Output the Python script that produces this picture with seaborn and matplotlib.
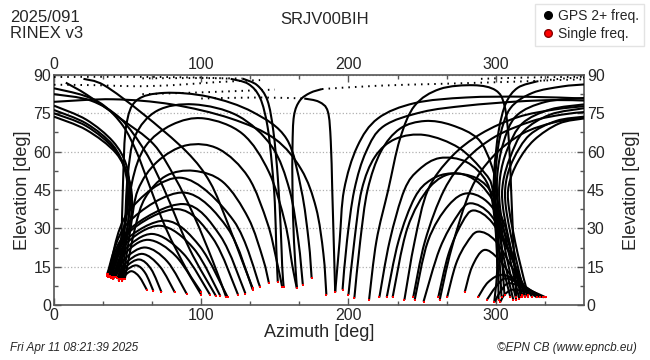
import matplotlib
matplotlib.use("Agg")
import matplotlib.pyplot as plt
from matplotlib.path import Path
from matplotlib.patches import PathPatch
from matplotlib.lines import Line2D
from matplotlib.ticker import MultipleLocator
import numpy as np
import pandas as pd
import seaborn as sns

# ── Satellite tracks, (azimuth, elevation) read off the skyplot ──
# east side: low arcs rising out of the NE bundle
EAST_LOW = [
    [(46, 9.5), (49, 12), (53, 13.2), (58, 11), (63, 6)],
    [(45, 10), (49, 13.5), (56, 15.5), (62, 12.5), (67.5, 5.5)],
    [(44, 10), (49, 15), (58, 17.8), (66, 14), (73, 5)],
    [(43, 10.5), (48, 16), (60, 20), (72, 15), (82, 5)],
    [(42, 11), (48, 18), (62, 22.5), (77, 17), (90, 4.5)],
    [(41, 11), (48, 20), (64, 25.5), (83, 19), (100, 4)],
    [(40, 11), (48, 21.5), (67, 27.8), (88, 20), (106, 4)],
    [(39, 11), (48, 23.5), (72, 31), (95, 22), (113, 3.5)],
    [(38, 11.2), (48, 25), (76, 33), (99, 23), (118, 3)],
    [(37, 11.5), (50, 28), (84, 37.5), (108, 26), (125, 4)],
    [(36, 11.5), (50, 29), (88, 39.5), (113, 27), (130, 4.5)],
    [(36, 12), (50, 32), (88, 44), (118, 30), (135, 6)],
    [(37, 12), (50, 36), (86, 49.8), (122, 33), (140, 7)],
]

# east side: high arches going over towards the south
EAST_ARCHES = [
    [(44, 9.5), (46, 30), (47, 50), (49, 70), (56, 80), (75, 83), (105, 81.5),
     (135, 75.5), (158, 65), (168, 45), (173, 25), (175, 10.5)],
    [(45, 10), (48, 30), (50, 50), (55, 66), (70, 76), (95, 78.5), (125, 74),
     (148, 62), (160, 45), (166, 25), (169, 8)],
    [(46, 10), (50, 30), (53, 48), (62, 62), (80, 70.5), (102, 73), (128, 67),
     (146, 52), (157, 32), (162, 15), (165, 6.5)],
    [(47, 10), (52, 30), (57, 45), (70, 56), (90, 62.5), (112, 61), (132, 50),
     (145, 32), (151, 18), (155, 7)],
    [(48, 10), (55, 30), (62, 42), (76, 50.5), (95, 52.5), (115, 48), (132, 34),
     (142, 18), (146, 8.5)],
]

# east side: tracks coming over the north pole hole into the NE bundle
EAST_NORTH = [
    [(0, 78), (22, 72.5), (40, 64), (49, 55), (51, 45), (48, 30), (43, 18), (38, 11)],
    [(0, 76.3), (22, 71), (40, 62.5), (48, 53), (50, 43), (47, 29), (42, 18), (37, 11)],
    [(0, 75), (22, 70), (41, 61), (50, 51), (52, 41), (49, 28), (44, 17), (39, 10.5)],
    [(0, 73.7), (22, 68.5), (42, 59.5), (51, 49), (53, 39), (50, 27), (45, 16), (40, 10)],
]

# east side: long diagonals from the north down to the SE horizon
EAST_DIAG = [
    [(0, 84.8), (20, 82), (34, 78), (47, 70), (56, 60), (64, 48), (76, 30), (90, 14), (100, 5)],
    [(0, 82.5), (25, 80), (45, 73), (62, 60), (75, 45), (92, 22), (110, 3.5)],
    [(8, 87), (22.5, 82.2), (45, 73), (67.5, 63), (82, 50), (95, 35), (108, 17), (117, 3)],
    [(20, 88.5), (34, 86), (60, 75), (90, 60), (106, 48), (118, 32), (128, 17), (135, 6.5)],
    [(0, 79.5), (40, 80.5), (80, 78.5), (120, 73), (150, 65), (168, 53), (178, 38),
     (183, 20), (185, 4)],
]

# near-zenith passes dropping to the south
CENTER = [
    [(120, 88.5), (132, 86.5), (140, 81), (145, 70), (148, 55), (150, 40), (151, 22), (152, 9)],
    [(128, 88.6), (138, 86), (145, 80), (149, 68), (152, 50), (154, 30), (155, 15), (156, 7)],
    [(165, 6.5), (163, 25), (162, 45), (162, 62), (163, 74), (167, 80), (174, 83), (182, 84.5)],
    [(170, 80.8), (180, 79.5), (186, 75.7), (188, 64), (189, 45), (190, 25), (191, 5)],
]

# sparse samples near the zenith (azimuth changes fast, so points spread out)
ZENITH_DOTTED = [
    [(0, 89.2), (50, 89.3), (100, 89), (120, 88.5)],
    [(60, 88.7), (100, 88.8), (128, 88.6)],
    [(0, 86.2), (30, 86), (55, 85.6), (80, 86), (110, 87.2), (140, 88)],
    [(60, 82.5), (100, 83.2), (150, 84.3)],
    [(100, 80.8), (140, 81.2), (170, 80.8)],
    [(182, 84.5), (220, 85.8), (260, 86.5), (314, 87.4), (340, 88), (360, 88.3)],
    [(328, 87.5), (345, 88.6), (360, 89)],
    [(290, 88.5), (320, 89), (360, 89.3)],
]

# west side: high arches from the SW down into the NW bundle
WEST_ARCHES = [
    [(214, 2), (219, 25), (227, 45), (235, 65), (245, 78), (262, 84.5), (285, 86),
     (300, 84), (306, 78), (309, 64), (310.5, 45), (312, 25), (314, 3)],
    [(204, 2.6), (208, 25), (213, 45), (222, 60), (235, 69), (252, 72), (270, 70.4),
     (288, 65), (297, 55), (300.5, 45), (302, 25), (304, 3)],
    [(200, 4), (204, 25), (209, 45), (218, 58), (232, 65), (252, 66.5), (275, 61.5),
     (292, 52), (298, 45), (301, 25), (302, 2)],
    [(221, 3), (228, 25), (238, 45), (248, 53), (262, 57.5), (280, 56), (294, 48),
     (299, 35), (301, 15), (299, 1)],
    [(226, 3), (234, 25), (245, 42), (256, 49), (270, 51.5), (287, 49.6), (298, 43),
     (303, 30), (305, 12), (306, 4)],
]

# west side: tracks out of the NW bundle over to the north
WEST_NORTH = [
    [(318, 3), (311, 20), (305, 38), (305, 48), (310, 58), (319, 68), (337, 74.5), (360, 77)],
    [(316, 2.5), (309, 20), (303, 38), (303, 50), (308, 61), (318, 71), (337, 76.5), (360, 78.5)],
    [(320, 3.5), (313, 20), (307, 38), (307, 48), (312, 57), (323, 66.5), (341, 72), (360, 73.7)],
    [(314, 2), (307, 20), (302, 38), (301, 50), (305, 63), (314, 74), (334, 79.5), (360, 81)],
    [(322, 4), (315, 20), (309, 38), (309, 47), (315, 56), (326, 64.5), (343, 71), (360, 73)],
    [(312, 2), (305, 20), (300, 38), (300, 52), (303, 66), (310, 77), (325, 83), (345, 85.5),
     (360, 86.3)],
    [(310, 3), (303, 20), (299, 38), (299, 52), (302, 68), (307, 79), (315, 85), (328, 87.5)],
]

# west side: long diagonals from the SW horizon up to the north
WEST_DIAG = [
    [(196, 6), (199, 25), (204, 45), (212, 60), (224, 70), (250, 75.5), (280, 78),
     (314, 79.6), (340, 80.2), (360, 80)],
    [(191, 5), (194, 25), (197, 45), (206, 62), (220, 73), (245, 79), (280, 81.2),
     (320, 81.5), (360, 80.8)],
    [(238, 2), (245, 25), (254, 45), (270, 58), (290, 67), (315, 73.5), (340, 76.5),
     (360, 77.8)],
    [(244, 3), (252, 25), (265, 45), (280, 57), (300, 66), (325, 72), (345, 74.5),
     (360, 75.5)],
    [(262, 2), (270, 22), (283, 45), (298, 58), (318, 67), (340, 71.5), (360, 73.3)],
]

# west side: low arcs setting into the NW bundle
WEST_LOW = [
    [(230, 3), (240, 30), (255, 46), (272, 51.5), (290, 47), (305, 33), (314, 12), (317, 3)],
    [(245, 2), (254, 25), (268, 39), (282, 43.7), (298, 38), (310, 22), (318, 4)],
    [(251, 1.3), (262, 22), (274, 35), (283, 39.8), (297, 35), (310, 20), (320, 3)],
    [(261, 3), (268, 20), (277, 32), (285, 37), (298, 32), (312, 17), (322, 3)],
    [(267, 3), (273, 16), (280, 24), (288, 28.7), (300, 25), (314, 12), (325, 3)],
    [(279, 5), (284, 15), (292, 21.5), (302, 18), (314, 9), (328, 3)],
    [(288, 3), (295, 9), (305, 11.8), (318, 8), (330, 3)],
    [(294, 2), (300, 7), (307, 10.4), (320, 7), (332, 3)],
    [(299, 1), (303, 5), (309, 8.5), (322, 6), (334, 3)],
    [(303, 1), (306, 4), (312, 6), (325, 4.5), (333, 3)],
]

SOLID_GROUPS = [EAST_LOW, EAST_ARCHES, EAST_NORTH, EAST_DIAG, CENTER,
                WEST_ARCHES, WEST_NORTH, WEST_DIAG, WEST_LOW]

STATION = "SRJV00BIH"
DOY = "2025/091"
RINEX = "RINEX v3"
STAMP = "Fri Apr 11 08:21:39 2025"
CREDIT = "\u00a9EPN CB (www.epncb.eu)"


def track_path(pts):
    # smooth curve through the read points (Catmull-Rom as cubic Bezier)
    p = np.asarray(pts, float)
    ext = np.vstack([p[0], p, p[-1]])
    verts, codes = [p[0]], [Path.MOVETO]
    for i in range(1, len(ext) - 2):
        a, b, c, d = ext[i - 1], ext[i], ext[i + 1], ext[i + 2]
        verts += [b + (c - a) / 6, c - (d - b) / 6, c]
        codes += [Path.CURVE4] * 3
    return Path(verts, codes)


sns.set_theme(style="ticks")
plt.rcParams["font.family"] = ["Liberation Sans", "DejaVu Sans"]

fig = plt.figure(figsize=(6.5, 3.6), dpi=100)
ax = fig.add_axes([54 / 650, 1 - 305 / 360, 530 / 650, 230 / 360])

for group in SOLID_GROUPS:
    for t in group:
        ax.add_patch(PathPatch(track_path(t), fill=False, ec="black", lw=1.5,
                               capstyle="butt", joinstyle="round", zorder=3))
for t in ZENITH_DOTTED:
    ax.add_patch(PathPatch(track_path(t), fill=False, ec="black", lw=1.4,
                           ls=(0, (0.8, 2.6)), zorder=3))

# single-frequency epochs at the low ends of the tracks
ends = []
for group in SOLID_GROUPS:
    for t in group:
        for az, el in (t[0], t[-1]):
            if el <= 12:
                ends.append((az, el))
red = pd.DataFrame(ends, columns=["az", "el"])
sns.scatterplot(data=red, x="az", y="el", color="red", s=3, marker="s",
                linewidth=0, ax=ax, zorder=5, legend=False)

ax.set_xlim(0, 360)
ax.set_ylim(0, 90)
ax.xaxis.set_major_locator(MultipleLocator(100))
ax.xaxis.set_minor_locator(MultipleLocator(100 / 3))
ax.yaxis.set_major_locator(MultipleLocator(15))
ax.yaxis.set_minor_locator(MultipleLocator(7.5))
ax.tick_params(which="both", direction="in", top=True, right=True,
               labeltop=True, labelright=True, color="#555555",
               labelsize=11.5, pad=2)
ax.tick_params(which="major", length=5, width=1)
ax.tick_params(which="minor", length=3, width=1)
ax.grid(axis="y", which="major", ls=":", color="#b0b0b0", lw=0.9)
for s in ax.spines.values():
    s.set_color("#555555")
    s.set_linewidth(1.2)

ax.set_xlabel("Azimuth [deg]", fontsize=13, labelpad=1)
ax.set_ylabel("Elevation [deg]", fontsize=13, labelpad=2)
ax2 = ax.secondary_yaxis("right")
ax2.yaxis.set_major_locator(MultipleLocator(15))
ax2.tick_params(length=0, labelsize=11.5, pad=6)
ax2.set_yticklabels([])
ax2.set_ylabel("Elevation [deg]", fontsize=13, labelpad=22)
ax2.spines["right"].set_visible(False)

fig.text(10 / 650, 1 - 17 / 360, DOY, fontsize=12, va="center", ha="left")
fig.text(10 / 650, 1 - 34 / 360, RINEX, fontsize=12, va="center", ha="left")
fig.text(325 / 650, 1 - 20 / 360, STATION, fontsize=12, va="center", ha="center")
fig.text(10 / 650, 1 - 348 / 360, STAMP, fontsize=8.5, style="italic",
         va="center", ha="left")
fig.text(637 / 650, 1 - 348 / 360, CREDIT, fontsize=8.5, style="italic",
         va="center", ha="right")

handles = [Line2D([], [], ls="", marker="o", ms=5.5, color="black", label="GPS 2+ freq."),
           Line2D([], [], ls="", marker="o", ms=5.5, color="red", mec="#880000",
                  label="Single freq.")]
fig.legend(handles=handles, loc="upper right", bbox_to_anchor=(644 / 650, 1 - 4 / 360),
           fontsize=10, frameon=True, fancybox=False, edgecolor="#dddddd",
           handletextpad=0.1, borderpad=0.35, labelspacing=0.3, handlelength=1.2,
           borderaxespad=0)

fig.savefig("out.png", dpi=100)
